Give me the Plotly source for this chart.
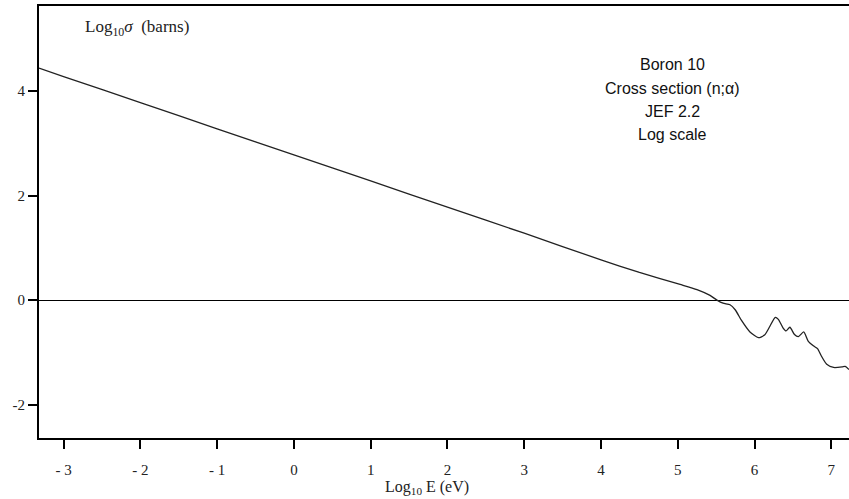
import plotly.graph_objects as go

# Log10 E (eV) and Log10 sigma (barns)
log_e = [-3.32, -3.0, -2.0, -1.0, 0.0, 1.0, 2.0, 3.0, 4.0, 4.5, 5.03, 5.25, 5.42, 5.51,
         5.59, 5.68, 5.75, 5.83, 5.94, 6.05, 6.13, 6.20, 6.27, 6.31, 6.37, 6.41, 6.46,
         6.52, 6.57, 6.64, 6.70, 6.77, 6.82, 6.87, 6.94, 7.03, 7.14, 7.18, 7.23]
log_sigma = [4.44, 4.28, 3.78, 3.28, 2.78, 2.28, 1.78, 1.28, 0.77, 0.53, 0.30, 0.20, 0.09, 0.0,
             -0.06, -0.09, -0.19, -0.39, -0.61, -0.72, -0.67, -0.50, -0.33, -0.37, -0.53, -0.59, -0.52,
             -0.66, -0.70, -0.61, -0.79, -0.88, -0.93, -1.07, -1.23, -1.29, -1.28, -1.27, -1.33]

x_ticks = [-3, -2, -1, 0, 1, 2, 3, 4, 5, 6, 7]
x_tick_labels = ["- 3", "- 2", "- 1", "0", "1", "2", "3", "4", "5", "6", "7"]
y_ticks = [-2, 0, 2, 4]
y_tick_labels = ["-2", "0", "2", "4"]

info_lines = ["Boron 10", "Cross section (n;α)", "JEF 2.2", "Log scale"]
info_y = [4.51, 4.05, 3.61, 3.17]

serif = "Liberation Serif"
sans = "Liberation Sans"

fig = go.Figure()
fig.add_trace(go.Scatter(x=log_e, y=log_sigma, mode="lines",
                         line=dict(color="#222222", width=1.3, shape="spline", smoothing=0.6),
                         showlegend=False, hoverinfo="skip"))

fig.update_xaxes(range=[-3.32, 7.23], tickvals=x_ticks, ticktext=x_tick_labels,
                 showgrid=False, zeroline=False, showline=True, linecolor="black",
                 linewidth=2, mirror=True, ticks="outside", ticklen=9, tickwidth=1.5,
                 tickcolor="black", ticklabelstandoff=8,
                 tickfont=dict(family=serif, size=15, color="#222"))
fig.update_yaxes(range=[-2.64, 5.63], tickvals=y_ticks, ticktext=y_tick_labels,
                 showgrid=False, zeroline=True, zerolinecolor="black", zerolinewidth=1,
                 showline=True, linecolor="black", linewidth=2, ticks="outside",
                 ticklen=9, tickwidth=1.5, tickcolor="black",
                 tickfont=dict(family=serif, size=15, color="#222"))

fig.add_annotation(x=-2.04, y=5.2, xref="x", yref="y", showarrow=False,
                   text="Log<sub>10</sub><i>σ</i>  (barns)",
                   font=dict(family=serif, size=17, color="#222"))
for t, yy in zip(info_lines, info_y):
    fig.add_annotation(x=4.93, y=yy, xref="x", yref="y", showarrow=False, text=t,
                       font=dict(family=sans, size=16, color="#111"))
fig.add_annotation(x=0.479, y=-0.1157, xref="paper", yref="paper", showarrow=False,
                   xanchor="center", yanchor="middle",
                   text="Log<sub>10</sub> E (eV)",
                   font=dict(family=serif, size=16, color="#222"))

fig.update_layout(width=849, height=499, margin=dict(l=39, r=0, t=6, b=61),
                  plot_bgcolor="white", paper_bgcolor="white")
fig.write_html("out.html")
